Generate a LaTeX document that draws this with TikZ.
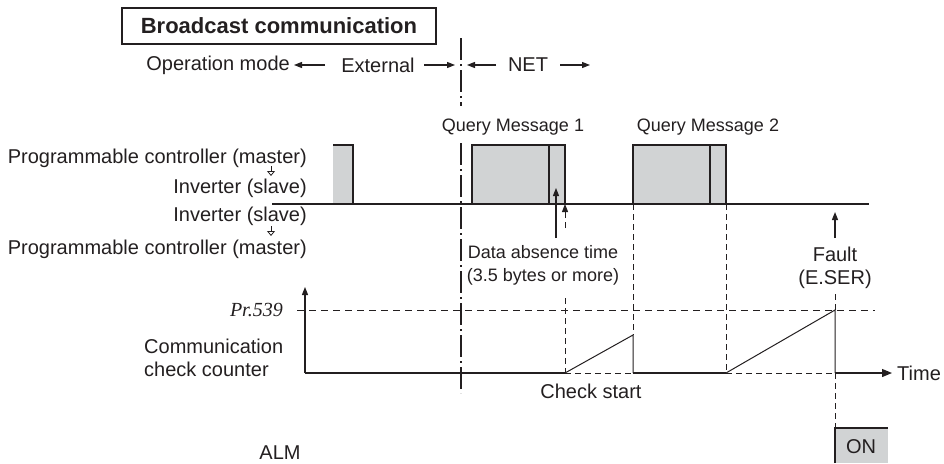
\documentclass[tikz,border=0pt]{standalone}
\usepackage{fontspec}
\setmainfont{Liberation Sans}
\newfontfamily\serifit{Liberation Serif}
\usetikzlibrary{arrows.meta}
\definecolor{ink}{HTML}{231F20}
\definecolor{pulse}{HTML}{D1D3D4}
\begin{document}
\begin{tikzpicture}[x=1pt,y=-1pt,
  txt/.style={font=\fontsize{20}{23.5}\selectfont, text=ink, inner sep=0pt},
  qtxt/.style={font=\fontsize{18}{21}\selectfont, text=ink, inner sep=0pt},
  stxt/.style={font=\fontsize{18}{24}\selectfont, text=ink, inner sep=0pt},
  ln/.style={draw=ink, line width=1.2pt},
  dsh/.style={draw=ink, line width=1pt, dash pattern=on 6pt off 4pt},
  dashdot/.style={draw=ink, line width=1.1pt, dash pattern=on 22pt off 4pt on 2pt off 4pt},
  arr/.style={ln, -{Triangle[length=8pt,width=6pt]}},
  dirarr/.style={draw=ink, line width=0.8pt, -{Triangle[open,length=5pt,width=8pt]}},
  pbox/.style={draw=ink, line width=1.2pt, fill=pulse},
]
\useasboundingbox (0,0) rectangle (944,463);

% title
\node[draw=ink, line width=1.4pt, minimum width=314pt, minimum height=36pt, inner sep=0pt,
      font=\fontsize{22}{26}\selectfont\bfseries, text=ink] (title) at (279,26) {Broadcast communication};

% mode row
\node[txt, anchor=east] (opmode) at (290,65) {Operation mode};
\node[txt] (ext) at (378,65) {External};
\node[txt] (net) at (528,65) {NET};
\coordinate (a1s) at (325,65); \coordinate (a1e) at (294,65);
\coordinate (a2s) at (424,65); \coordinate (a2e) at (455,65);
\coordinate (a3s) at (496,65); \coordinate (a3e) at (467,65);
\coordinate (a4s) at (560,65); \coordinate (a4e) at (590,65);
\draw[arr] (a1s) -- (a1e);
\draw[arr] (a2s) -- (a2e);
\draw[arr] (a3s) -- (a3e);
\draw[arr] (a4s) -- (a4e);

% dash-dot boundary (broken by the query label)
\coordinate (bt) at (461,38); \coordinate (bm1) at (461,106);
\coordinate (bm2) at (461,143); \coordinate (bb) at (461,393);
\draw[dashdot] (bt) -- (bm1);
\draw[dashdot] (bm2) -- (bb);

% query labels
\node[qtxt] (q1) at (513,127) {Query Message 1};
\node[qtxt] (q2) at (708,127) {Query Message 2};

% left labels
\node[txt, anchor=east] (pc1) at (307,158) {Programmable controller (master)};
\node[txt, anchor=east] (inv1) at (307,188) {Inverter (slave)};
\node[txt, anchor=east] (inv2) at (307,216) {Inverter (slave)};
\node[txt, anchor=east] (pc2) at (307,249) {Programmable controller (master)};
\coordinate (d1s) at (271,166); \coordinate (d1e) at (271,176);
\coordinate (d2s) at (271,226); \coordinate (d2e) at (271,236);
\draw[dirarr] (d1s) -- (d1e);
\draw[dirarr] (d2s) -- (d2e);

% pulses
\fill[pulse] (333,145) rectangle (353,204);
\draw[ln] (333,145) -- (353,145) -- (353,204);
\draw[pbox] (472,145) rectangle (565,204);
\draw[ln] (549,145) -- (549,204);
\draw[pbox] (633,145) rectangle (726,204);
\draw[ln] (710,145) -- (710,204);

% message baseline
\coordinate (bl0) at (272,204); \coordinate (bl1) at (869,204);
\draw[draw=ink, line width=1.4pt] (bl0) -- (bl1);

% data absence arrows
\coordinate (da0) at (556,238); \coordinate (da1) at (556,188);
\draw[arr] (da0) -- (da1);
\coordinate (db0) at (565,228); \coordinate (db1) at (565,204);
\draw[dsh, -{Triangle[length=8pt,width=6pt]}] (db0) -- (db1);
\node[stxt] (dat1) at (543,252) {Data absence time};
\node[stxt] (dat2) at (543,277) {(3.5 bytes or more)};

% fault
\coordinate (f0) at (835,238); \coordinate (f1) at (835,212);
\draw[arr] (f0) -- (f1);
\node[txt] (fault1) at (835,254) {Fault};
\node[txt] (fault2) at (835,279) {(E.SER)};

% counter
\coordinate (o) at (305,373); \coordinate (ytop) at (305,287);
\draw[arr] (o) -- (ytop);
\node[font=\fontsize{20}{24}\selectfont\serifit\itshape, text=ink, inner sep=0pt, anchor=east] (pr) at (283,310) {Pr.539};
\coordinate (pr0) at (297,310); \coordinate (pr1) at (875,310);
\draw[dsh, dash pattern=on 7pt off 5pt] (pr0) -- (pr1);
\node[txt, anchor=west, align=left] (ccc) at (144,358) {Communication\\check counter};

\coordinate (cs) at (565,373); \coordinate (r1) at (633,373); \coordinate (r1t) at (633,335);
\coordinate (r2) at (726,373); \coordinate (ft) at (835,310); \coordinate (fb) at (835,373);
\coordinate (tend) at (892,373);
\draw[ln] (o) -- (cs);
\draw[dsh] (cs) -- (r1);
\draw[ln] (r1) -- (r2);
\draw[dsh] (r2) -- (fb);
\draw[ln, -{Triangle[length=10pt,width=8pt]}] (fb) -- (tend);
\node[txt, anchor=west] (time) at (897,373) {Time};
\draw[ln, line width=1pt] (cs) -- (r1t) -- (r1);
\draw[ln, line width=1pt] (r2) -- (ft) -- (fb);

% vertical dashed guides
\draw[dsh] (565,298) -- (cs);
\draw[dsh] (633,204) -- (r1t);
\draw[dsh] (726,204) -- (r2);
\draw[dsh] (835,294) -- (ft);
\coordinate (onl) at (835,428);
\draw[dsh] (fb) -- (onl);
\node[txt] (chk) at (591,391) {Check start};

% ALM
\node[txt] (alm) at (280,453) {ALM};
\fill[pulse] (835,428) rectangle (888,463);
\draw[ln] (835,463) -- (onl) -- (888,428);
\node[txt] (on) at (861,447) {ON};
\end{tikzpicture}
\end{document}
